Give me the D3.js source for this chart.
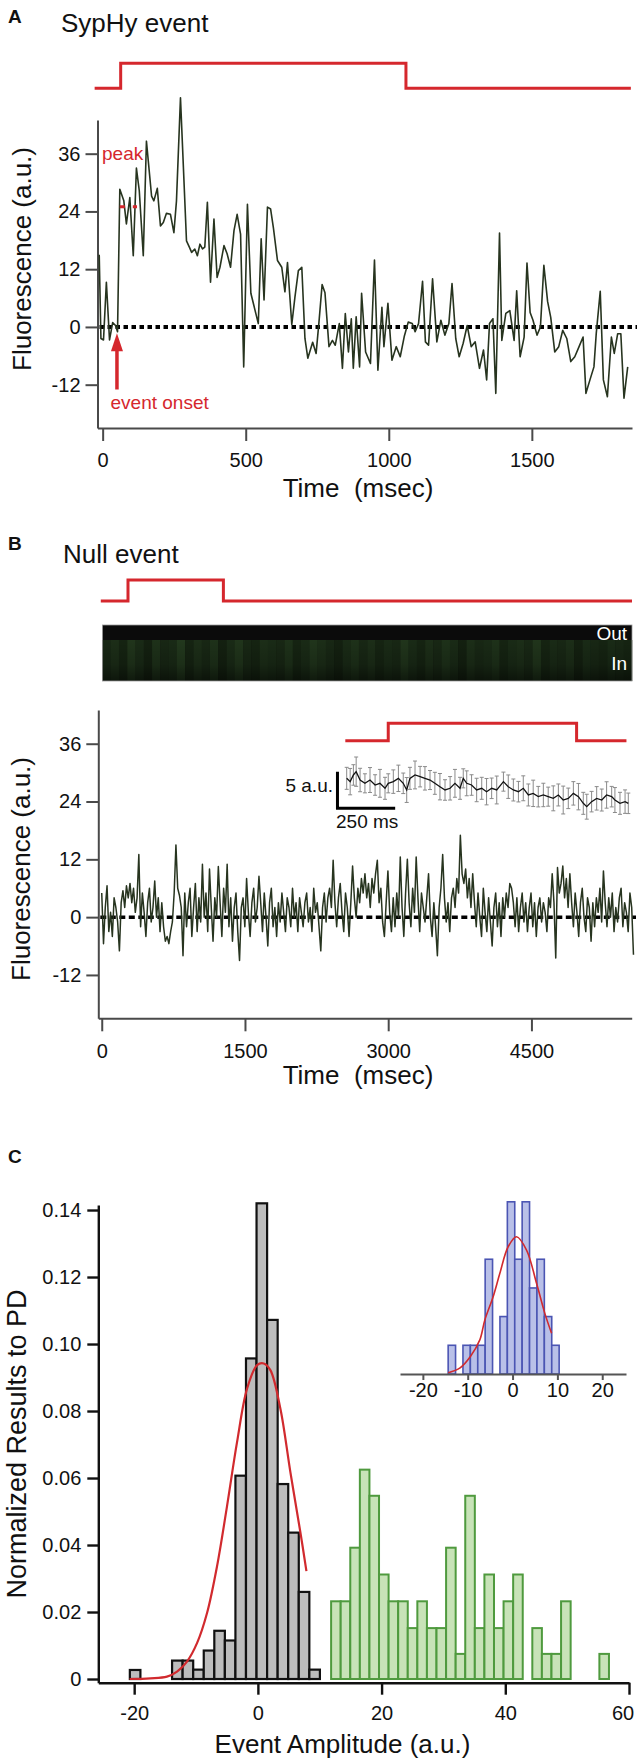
<!DOCTYPE html>
<html><head><meta charset="utf-8">
<script src="https://cdn.jsdelivr.net/npm/d3@7"></script>
<style>body{margin:0;background:#fff}svg{display:block}</style>
</head><body><svg id="c" width="637" height="1762"></svg>
<script>
// ---------------- DATA ----------------
// Panel A : SypHy event trace (time ms, fluorescence a.u.)
const timesA = [-12,-6,3,13,24,35,45,52,60,74,83,95,107,118,128,142,153,171,179,191,202,212,223,237,249,258,272,293,303,311,322,331,340,349,357,366,377,389,400,410,424,435,447,459,470,482,493,506,518,544,554,564,576,587,597,611,626,637,646,661,672,684,696,707,717,734,746,756,767,777,791,803,813,827,838,848,859,869,876,886,898,905,919,936,950,962,976,983,997,1011,1026,1040,1054,1068,1082,1092,1104,1118,1128,1139,1153,1168,1182,1196,1210,1221,1234,1246,1260,1274,1288,1302,1317,1331,1342,1352,1364,1374,1387,1395,1409,1423,1438,1447,1459,1473,1483,1494,1504,1518,1530,1542,1555,1566,1580,1594,1608,1622,1636,1650,1665,1679,1689,1703,1717,1725,1739,1750,1764,1778,1788,1800,1811,1822,1835];
const fluorA = [15,-2.4,-2.7,9.3,-2.7,0.9,0.3,-1,28.6,26.2,21.4,26.9,14.8,33,28.3,14.8,38.6,27.2,26.2,28.8,21,21.7,23.6,23.4,19.6,26.2,47.6,17.9,16.6,15.5,16.2,14.8,17.2,16.2,16.6,25.9,9.3,22.4,10.3,12.4,16.9,15.2,12.4,20,23.4,19.3,-8.3,25.5,7,0.7,18.3,5.6,24.9,24.5,20.5,13.8,12.4,7.3,13.4,0.5,6.2,11.7,12.4,-2.4,-6.5,-3.2,-5.5,1,8.8,7.1,-4.1,-2.8,-3.8,0.7,-8.6,2.8,-5.2,1.7,-8.6,2.1,-8.3,7,-5.2,-7.6,13.9,-9,4.1,-4.1,4.9,-6.9,-4.1,-6.2,-2,1,0.7,-1,0.7,9.5,-3.1,-3.8,10,-3.1,1.4,-1.7,0.7,9,-2.4,-6.2,-3.4,0.3,-4.1,-3.1,-8.6,-4.8,-11,0.7,1.7,-13.8,19.5,-2.8,2.8,3.4,-2.8,7.5,-6.2,-2.1,13.3,3,1.4,-1.7,0,12.8,5.3,2,-5.2,-4.1,-0.7,-2.4,-7.2,-6.2,-4.1,-2.1,-13.8,-11,-8.3,-1.4,7.4,-11,-14.5,-2.1,-5.5,-1.4,-1.4,-14.8,-8.3];
const stimATimes = [-28,63,1060,1846];
const stimALevels = [0,1,0,0];
const onsetA = {t:50, tip:-1.3, tail:-13};
const peakA = {t0:60, t1:120, v:25, label:36};
const yTicksAB = [-12,0,12,24,36];
const xTicksA = [0,500,1000,1500];

// Panel B : Null event trace (sampled every nullDt ms)
const nullDt = 18.5;
const fluorB = [
5,-5.5,2,6.5,-3,1,-4,4,2,-1,-7,3,5.5,2,6.5,4,7,3,6,1,
4,13,-2,5,1,-4,3,6,-1,2,7.5,0,4,-3,3,-2,-5,-4,-5.5,-3,
-1,5,15,6,4.5,2,-8,5,-2,3,6,-4,2,7,-3,4,-1,11,0,5,
-3,10,2,-5,4,0,10.5,3,-4,6,1,11,-2,4,-5,2,5,-3,-9,2,
4,-2,8,1,-4,3,6,-1,2,8.5,3,-3,5,0,-6,3,6,-2,2,-4,
3,-1,5,1,-3,4,2,-2,6,0,3,-3,4,1,-2,3,5,-1,2,-3,
6,1,3,-2,-7,2,5,-1,4,6,2,11.8,3,-2,4,7,1,-3,5,2,
-4,3,10.6,4,0,6,3,8,5,9,4,7,2,8,5,9,11.8,3,6,-1,
-4,3,9.6,1,-3,4,-2,5,0,12.5,2,-4,5,12,3,-2,6,1,12.5,4,
-3,5,2,-1,4,9,0,-4,3,-2,-8,2,6,13,4,-1,3,-3,4,6,
2,8,5,17,9,7,10,4,8,2,9,3,-2,5,0,-4,6,1,-3,4,
-1,-6,2,5,-2,3,-4,4,0,5,2,7,6,3,-2,4,-3,2,5,-1,
3,-3,2,5,-2,3,-4,2,4,-1,3,1,-3,4,2,9,3,-8.5,10.3,5,
7,10.6,4,8,2,9,3,-2,5,1,-4,3,6,0,-3,4,2,-5,3,-2,
4,1,6,-1,9.6,3,-2,4,0,5,-3,2,-1,4,6,-2,3,1,-3,5,
2,-7.8];
const stimBTimes = [-10,275,1274,5553];
const stimBLevels = [0,1,0,0];
const xTicksB = [0,1500,3000,4500];
// kymograph strip column brightness (0..1)
const stripCols = [0.5,0.7,0.4,0.9,0.6,0.3,0.8,0.5,0.6,1.0,0.4,0.7,0.5,0.8,0.3,0.6,0.9,0.5,0.4,0.7,0.6,0.5,0.8,0.4,0.6,0.9,0.7,0.5,0.3,0.6,0.8,0.5,0.7,0.4,0.6,0.5,0.9,0.6,0.4,0.7,0.5,0.8,0.6,0.3,0.7,0.5,0.6,0.8,0.4,0.6,0.7,0.5,0.9,0.4,0.6,0.5,0.7,0.3,0.6,0.5,0.4,0.6,0.5,0.4];
// inset: averaged trace (ms, a.u.) with error bars
const insetT = [0,15,29,41,58,79,101,123,144,166,180,202,224,245,260,274,296,318,339,361,382,404,426,448,469,491,505,520,541,563,585,606,628,650,679,700,722,744,765,787,808,830,852,873,895,917,938,960,982,1004,1025,1040,1061,1083,1105,1126,1148,1162,1184,1206,1220];
const insetV = [4.32,3.87,4.78,5.23,4.09,3.64,4.09,3.41,3.64,2.96,3.64,3.87,4.32,3.64,2.73,4.32,4.78,4.55,4.32,4.09,3.64,3.18,2.73,2.96,3.64,2.96,4.32,3.64,3.41,2.73,2.96,2.5,2.96,2.73,3.87,3.18,2.73,2.5,2.96,2.05,2.27,1.82,2.05,1.82,1.59,2.05,1.36,1.59,2.27,1.82,0.91,0.45,1.14,1.59,1.36,2.05,1.82,1.36,0.91,1.14,0.91];
const insetErr = [1.5,1.8,1.4,2.0,1.6,1.3,1.7,1.4,1.9,1.5,1.3,1.6,1.8,1.4,1.7,1.5,1.9,1.4,1.6,1.3,1.5,1.8,1.4,1.6,1.9,1.5,1.3,1.7,1.4,1.6,1.5,1.8,1.4,1.9,1.3,1.6,1.5,1.4,1.7,1.5,1.8,1.4,1.6,1.3,1.7,1.5,1.9,1.4,1.6,1.8,1.5,1.7,1.4,1.6,1.5,1.8,1.4,1.7,1.5,1.6,1.4];
const stimITimes = [-6,180,996,1212];
const stimILevels = [0,1,0,0];

// Panel C : histograms
const grayStart = -20.7, grayW = 1.707;
const grayH = [0.0027,0,0,0,0.0055,0.0055,0.0028,0.0085,0.0144,0.0115,0.0607,0.0957,0.142,0.1072,0.0582,0.0437,0.026,0.0028];
const greenStart = 11.84, greenW = 1.549;
const greenH = [0.0232,0.0232,0.0392,0.0625,0.0547,0.0312,0.0232,0.0232,0.0152,0.0232,0.0152,0.0152,0.0392,0.0075,0.0547,0.0152,0.0312,0.0152,0.0232,0.0312,0,0.0152,0.0075,0.0075,0.0232,0,0,0,0.0075];
const fitX = [-20.74,-17.4,-14.7,-13.07,-11.46,-9.84,-8.22,-6.6,-4.98,-3.37,-1.75,-0.13,0.94,2.02,3.64,5.26,6.88,7.85];
const fitY = [0,0.0002,0.0007,0.0022,0.0052,0.0107,0.0197,0.0337,0.0517,0.0707,0.0867,0.0937,0.0942,0.0922,0.0807,0.0617,0.0437,0.0322];
const blueStart = -14.36, blueW = 1.65;
const blueH = [0.0278,0,0.0278,0.0278,0.0278,0.1111,0,0.0556,0.1667,0.1111,0.1667,0.0833,0.1111,0.0556,0.0278];
const fitIX = [-14.36,-11.7,-9.4,-7.3,-6.18,-4.33,-2.83,-0.98,0.89,3.12,5.35,7.2,8.7];
const fitIY = [0.0013,0.006,0.017,0.033,0.0523,0.0748,0.0975,0.1232,0.1329,0.12,0.0878,0.0587,0.0394];
const xTicksC = [-20,0,20,40,60];
const yTicksC = [0,0.02,0.04,0.06,0.08,0.10,0.12,0.14];
const xTicksI = [-20,-10,0,10,20];

// ---------------- DRAW ----------------
const FONT = '"Liberation Sans", Arial, Helvetica, sans-serif';
const RED = "#d5272d", TRACE = "#27341f";
const plain = d => String(d);
const svg = d3.select("#c");
svg.append("rect").attr("width",637).attr("height",1762).attr("fill","#fff");

function txt(x,y,s,size,opts={}){
  const t = svg.append("text").attr("x",x).attr("y",y).text(s)
    .attr("font-family",FONT).attr("font-size",size).attr("fill",opts.fill||"#111")
    .attr("text-anchor",opts.anchor||"start").attr("font-weight",opts.weight||"normal")
    .style("white-space","pre");
  if(opts.rot) t.attr("transform",`rotate(-90,${x},${y})`);
  return t;
}
function styleAxis(g,color,w,fs){
  g.attr("font-family",null).attr("font-size",null);
  g.select(".domain").attr("stroke",color).attr("stroke-width",w);
  g.selectAll(".tick line").attr("stroke",color).attr("stroke-width",w);
  g.selectAll(".tick text").attr("font-family",FONT).attr("font-size",fs).attr("fill","#111");
}
function stim(times,levels,xs,ys){
  svg.append("path").datum(times.map((t,i)=>[t,levels[i]]))
    .attr("d",d3.line().x(d=>xs(d[0])).y(d=>ys(d[1])).curve(d3.curveStepAfter))
    .attr("fill","none").attr("stroke",RED).attr("stroke-width",3);
}

// ===== Panel A =====
txt(8,23,"A",19,{weight:"bold"});
txt(61,32,"SypHy event",26);
const xA = d3.scaleLinear().domain([-18,1850]).range([97.5,632]);
const yA = d3.scaleLinear().domain([-21,43]).range([428,120]);
stim(stimATimes,stimALevels,xA,d3.scaleLinear().domain([0,1]).range([88.3,63.3]));
let g = svg.append("g").attr("transform",`translate(${xA.range()[0]},0)`)
  .call(d3.axisLeft(yA).tickValues(yTicksAB).tickFormat(plain).tickSize(12).tickSizeOuter(0).tickPadding(5));
styleAxis(g,"#4a4a4a",2,20);
g = svg.append("g").attr("transform",`translate(0,${yA.range()[0]})`)
  .call(d3.axisBottom(xA).tickValues(xTicksA).tickFormat(plain).tickSize(13).tickSizeOuter(0).tickPadding(12));
styleAxis(g,"#4a4a4a",2,20);
svg.append("line").attr("x1",xA.range()[0]+2).attr("x2",637).attr("y1",yA(0)).attr("y2",yA(0))
  .attr("stroke","#000").attr("stroke-width",4).attr("stroke-dasharray","4.5,3.5");
svg.append("path").datum(timesA.map((t,i)=>[t,fluorA[i]]))
  .attr("d",d3.line().x(d=>xA(d[0])).y(d=>yA(d[1])))
  .attr("fill","none").attr("stroke",TRACE).attr("stroke-width",1.6).attr("stroke-linejoin","round");
// annotations
txt(xA.range()[0]+4.5,yA(peakA.label)+6.5,"peak",19,{fill:RED});
svg.append("line").attr("x1",xA(peakA.t0)).attr("x2",xA(peakA.t1)).attr("y1",yA(peakA.v)).attr("y2",yA(peakA.v))
  .attr("stroke",RED).attr("stroke-width",3).attr("stroke-dasharray","5,8");
{
  const ax = xA(onsetA.t), tip = yA(onsetA.tip), tail = yA(onsetA.tail);
  svg.append("line").attr("x1",ax).attr("x2",ax).attr("y1",tail).attr("y2",tip+16)
    .attr("stroke",RED).attr("stroke-width",3.5);
  svg.append("path").attr("d",`M${ax},${tip}L${ax-6},${tip+18}L${ax+6},${tip+18}Z`).attr("fill",RED);
}
txt(110.5,409,"event onset",19,{fill:RED});
txt(31,259,"Fluorescence (a.u.)",26,{anchor:"middle",rot:true});
txt(358,497,"Time  (msec)",26,{anchor:"middle"});

// ===== Panel B =====
txt(8,550,"B",19,{weight:"bold"});
txt(63,563,"Null event",26);
const xB = d3.scaleLinear().domain([-36,5550]).range([98.3,631.7]);
const yB = d3.scaleLinear().domain([-21,43]).range([1018.3,710]);
stim(stimBTimes,stimBLevels,xB,d3.scaleLinear().domain([0,1]).range([601,580]));
// strip image
{
  const L=102.4,R=632,T=625,M=640,Bt=681;
  const defs = svg.append("defs");
  const gr = defs.append("linearGradient").attr("id","shade").attr("x1",0).attr("x2",0).attr("y1",0).attr("y2",1);
  gr.append("stop").attr("offset","0%").attr("stop-color","#000").attr("stop-opacity",0.15);
  gr.append("stop").attr("offset","60%").attr("stop-color","#000").attr("stop-opacity",0.3);
  gr.append("stop").attr("offset","100%").attr("stop-color","#000").attr("stop-opacity",0.6);
  svg.append("rect").attr("x",L).attr("y",T).attr("width",R-L).attr("height",Bt-T).attr("fill","#0b0b0b");
  const cw=(R-L)/stripCols.length;
  const col = d3.interpolateRgb("#0f1a0d","#284222");
  stripCols.forEach((v,i)=>{
    svg.append("rect").attr("x",L+i*cw).attr("y",M).attr("width",cw+0.3).attr("height",Bt-M).attr("fill",col(v));
  });
  svg.append("rect").attr("x",L).attr("y",M).attr("width",R-L).attr("height",Bt-M).attr("fill","url(#shade)");
  svg.append("rect").attr("x",L).attr("y",T).attr("width",R-L).attr("height",Bt-T).attr("fill","none").attr("stroke","#9a9a9a").attr("stroke-width",0.8);
  txt(627,640,"Out",19,{fill:"#fff",anchor:"end"});
  txt(627,669.5,"In",19,{fill:"#fff",anchor:"end"});
}
g = svg.append("g").attr("transform",`translate(${xB.range()[0]},0)`)
  .call(d3.axisLeft(yB).tickValues(yTicksAB).tickFormat(plain).tickSize(12).tickSizeOuter(0).tickPadding(5));
styleAxis(g,"#4a4a4a",2,20);
g = svg.append("g").attr("transform",`translate(0,${yB.range()[0]})`)
  .call(d3.axisBottom(xB).tickValues(xTicksB).tickFormat(plain).tickSize(13).tickSizeOuter(0).tickPadding(12.7));
styleAxis(g,"#4a4a4a",2,20);
svg.append("line").attr("x1",xB.range()[0]+2).attr("x2",636).attr("y1",yB(0)).attr("y2",yB(0))
  .attr("stroke","#000").attr("stroke-width",3.5).attr("stroke-dasharray","6,3.5");
svg.append("path").datum(fluorB.map((v,i)=>[i*nullDt,v]))
  .attr("d",d3.line().x(d=>xB(d[0])).y(d=>yB(d[1])))
  .attr("fill","none").attr("stroke",TRACE).attr("stroke-width",1.5).attr("stroke-linejoin","round");
// inset
{
  const xI = d3.scaleLinear().domain([0,1220]).range([346.7,628.3]);
  const yI = d3.scaleLinear().domain([0,5]).range([810,773.35]);
  stim(stimITimes,stimILevels,xI,d3.scaleLinear().domain([0,1]).range([740.7,723.3]));
  const eg = svg.append("g").attr("stroke","#8a8a8a").attr("stroke-width",1);
  insetT.forEach((t,i)=>{
    const x=xI(t), y0=yI(insetV[i]-insetErr[i]), y1=yI(insetV[i]+insetErr[i]);
    eg.append("line").attr("x1",x).attr("x2",x).attr("y1",y0).attr("y2",y1);
    eg.append("line").attr("x1",x-2).attr("x2",x+2).attr("y1",y0).attr("y2",y0);
    eg.append("line").attr("x1",x-2).attr("x2",x+2).attr("y1",y1).attr("y2",y1);
  });
  svg.append("path").datum(insetT.map((t,i)=>[t,insetV[i]]))
    .attr("d",d3.line().x(d=>xI(d[0])).y(d=>yI(d[1])))
    .attr("fill","none").attr("stroke","#111").attr("stroke-width",1.3);
  // scale bar 5 a.u. / 250 ms
  svg.append("path").attr("d",`M${xI(-40)},${yI(5.23)}V${yI(0.23)}H${xI(210)}`)
    .attr("fill","none").attr("stroke","#000").attr("stroke-width",3);
  txt(333,792,"5 a.u.",19,{anchor:"end"});
  txt(336,828,"250 ms",19);
}
txt(30,869,"Fluorescence (a.u.)",26,{anchor:"middle",rot:true});
txt(358,1084,"Time  (msec)",26,{anchor:"middle"});

// ===== Panel C =====
txt(8,1163,"C",19,{weight:"bold"});
const xC = d3.scaleLinear().domain([-25.8,60]).range([98.3,629]);
const yC = d3.scaleLinear().domain([-0.0011,0.1415]).range([1682.7,1205]);
function bars(start,w,hs,xs,ys,fill,stroke,sw){
  const gg = svg.append("g");
  hs.forEach((h,i)=>{
    if(h<=0) return;
    const x0=xs(start+i*w), x1=xs(start+(i+1)*w);
    gg.append("rect").attr("x",x0).attr("width",x1-x0).attr("y",ys(h)).attr("height",ys(0)-ys(h))
      .attr("fill",fill).attr("stroke",stroke).attr("stroke-width",sw);
  });
}
bars(grayStart,grayW,grayH,xC,yC,"#bdbdbd","#111",2.2);
bars(greenStart,greenW,greenH,xC,yC,"#c8e3b8","#4f9a3e",2);
svg.append("path").datum(fitX.map((x,i)=>[x,fitY[i]]))
  .attr("d",d3.line().x(d=>xC(d[0])).y(d=>yC(d[1])).curve(d3.curveCatmullRom))
  .attr("fill","none").attr("stroke","#d12a2e").attr("stroke-width",2.2);
g = svg.append("g").attr("transform",`translate(${xC.range()[0]},0)`)
  .call(d3.axisLeft(yC).tickValues(yTicksC).tickSize(11).tickSizeOuter(0).tickPadding(6)
    .tickFormat(d=>d===0?"0":d3.format(".2f")(d)));
styleAxis(g,"#111",2.4,20);
g = svg.append("g").attr("transform",`translate(0,${yC.range()[0]})`)
  .call(d3.axisBottom(xC).tickValues(xTicksC).tickFormat(plain).tickSize(12).tickSizeOuter(0).tickPadding(11.6));
styleAxis(g,"#111",2.4,20);
// keep the last label ("60") inside the page as in the reference
g.selectAll(".tick text").filter(d=>d===60).attr("dx",-6.5);
txt(26,1444,"Normalized Results to PD",27,{anchor:"middle",rot:true});
txt(342.5,1753,"Event Amplitude (a.u.)",26,{anchor:"middle"});
// inset histogram
{
  const xI = d3.scaleLinear().domain([-25.1,25.3]).range([400,626]);
  const yI = d3.scaleLinear().domain([0,0.17]).range([1374,1198.4]);
  bars(blueStart,blueW,blueH,xI,yI,"#b9c0e8","#4b55b3",1.6);
  svg.append("path").datum(fitIX.map((x,i)=>[x,fitIY[i]]))
    .attr("d",d3.line().x(d=>xI(d[0])).y(d=>yI(d[1])).curve(d3.curveCatmullRom))
    .attr("fill","none").attr("stroke","#d12a2e").attr("stroke-width",1.6);
  const gi = svg.append("g").attr("transform",`translate(0,${yI.range()[0]})`)
    .call(d3.axisBottom(xI).tickValues(xTicksI).tickFormat(plain).tickSize(6).tickSizeOuter(0).tickPadding(3));
  styleAxis(gi,"#555",2,20);
}
</script></body></html>
